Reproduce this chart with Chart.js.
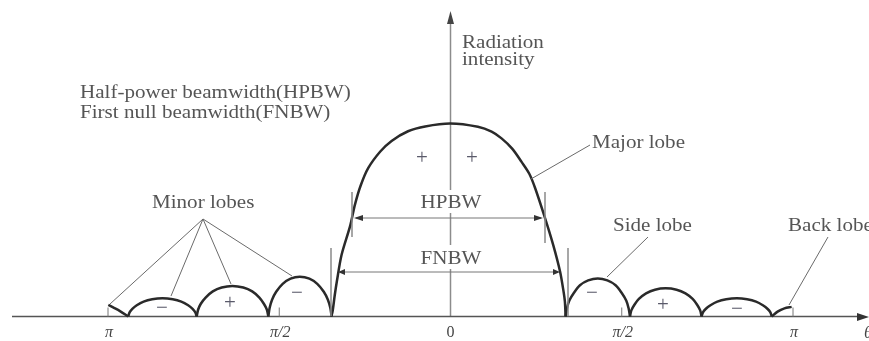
<!DOCTYPE html>
<html>
<head>
<meta charset="utf-8">
<script src="https://cdn.jsdelivr.net/npm/chart.js@4.4.1/dist/chart.umd.min.js"></script>
<style>
  html, body { margin: 0; padding: 0; background: #fff; }
</style>
</head>
<body>
<canvas id="patternChart" width="869" height="341"></canvas>
<script>
// angle in units of pi, radiation intensity relative to the main lobe peak
const mainLobe = [[-0.348, 0], [-0.344, 0.03], [-0.338, 0.11], [-0.332, 0.18], [-0.318, 0.32], [-0.293, 0.47],
    [-0.279, 0.58], [-0.262, 0.68], [-0.240, 0.77], [-0.205, 0.855], [-0.172, 0.91], [-0.124, 0.96],
    [-0.074, 0.985], [0, 1], [0.080, 0.983], [0.120, 0.958], [0.149, 0.923], [0.180, 0.87], [0.208, 0.80],
    [0.230, 0.74], [0.247, 0.666], [0.276, 0.51], [0.300, 0.37], [0.320, 0.232], [0.330, 0.13],
    [0.334, 0.077], [0.336, 0]];

const backLobeLeft = [[-0.999, 0.06], [-0.985, 0.047], [-0.965, 0.028], [-0.941, 0]];
const minorLeft1 = [[-0.941, 0], [-0.937, 0.021], [-0.929, 0.039], [-0.916, 0.058], [-0.896, 0.077], [-0.871, 0.089],
    [-0.841, 0.094], [-0.811, 0.089], [-0.786, 0.077], [-0.766, 0.058], [-0.753, 0.039], [-0.745, 0.021], [-0.741, 0]];
const minorLeft2 = [[-0.741, 0], [-0.737, 0.035], [-0.729, 0.066], [-0.715, 0.098], [-0.694, 0.130], [-0.668, 0.150],
    [-0.637, 0.158], [-0.605, 0.150], [-0.579, 0.130], [-0.558, 0.098], [-0.545, 0.066], [-0.536, 0.035], [-0.532, 0]];
const minorLeft3 = [[-0.532, 0], [-0.528, 0.045], [-0.521, 0.087], [-0.509, 0.128], [-0.490, 0.169], [-0.467, 0.196],
    [-0.440, 0.206], [-0.412, 0.196], [-0.389, 0.169], [-0.370, 0.128], [-0.358, 0.087], [-0.351, 0.045], [-0.347, 0]];

const sideLobe = [[0.336, 0], [0.340, 0.043], [0.347, 0.083], [0.360, 0.122], [0.378, 0.162], [0.402, 0.187],
    [0.430, 0.197], [0.458, 0.187], [0.482, 0.162], [0.500, 0.122], [0.513, 0.083], [0.520, 0.043], [0.524, 0]];
const minorRight2 = [[0.524, 0], [0.528, 0.032], [0.537, 0.061], [0.550, 0.091], [0.571, 0.120], [0.597, 0.139],
    [0.628, 0.146], [0.660, 0.139], [0.686, 0.120], [0.707, 0.091], [0.720, 0.061], [0.729, 0.032], [0.733, 0]];
const minorRight3 = [[0.733, 0], [0.737, 0.021], [0.745, 0.039], [0.759, 0.058], [0.779, 0.077], [0.805, 0.089],
    [0.836, 0.094], [0.866, 0.089], [0.892, 0.077], [0.912, 0.058], [0.926, 0.039], [0.934, 0.021], [0.938, 0]];
const backLobeRight = [[0.938, 0], [0.955, 0.025], [0.975, 0.042], [0.996, 0.05]];

const tickValues = [-1, -0.5, 0, 0.5, 1];
const tickLabels = ['π', 'π/2', '0', 'π/2', 'π'];

const lobes = [backLobeLeft, minorLeft1, minorLeft2, minorLeft3, mainLobe, sideLobe, minorRight2, minorRight3, backLobeRight];

const SERIF = '"Liberation Serif", "DejaVu Serif", serif';
const TEXT = '#555';

function stretchText(ctx, text, x, y, size, align) {
    ctx.save();
    ctx.font = size + 'px ' + SERIF;
    ctx.textAlign = align || 'left';
    ctx.textBaseline = 'alphabetic';
    ctx.translate(x, y);
    ctx.scale(1.17, 1);
    ctx.fillText(text, 0, 0);
    ctx.restore();
}

function line(ctx, x1, y1, x2, y2) {
    ctx.beginPath();
    ctx.moveTo(x1, y1);
    ctx.lineTo(x2, y2);
    ctx.stroke();
}

// filled arrow head, tip at (x, y), dx/dy is the pointing direction
function arrowHead(ctx, x, y, dx, dy, len, half) {
    ctx.beginPath();
    ctx.moveTo(x, y);
    ctx.lineTo(x - dx * len - dy * half, y - dy * len + dx * half);
    ctx.lineTo(x - dx * len + dy * half, y - dy * len - dx * half);
    ctx.closePath();
    ctx.fill();
}

const overlay = {
    id: 'overlay',
    beforeDatasetsDraw(chart) {
        const ctx = chart.ctx;
        const xs = chart.scales.x, ys = chart.scales.y;
        const y0 = ys.getPixelForValue(0);
        const x0 = xs.getPixelForValue(0);
        ctx.save();

        // vertical axis
        ctx.strokeStyle = '#8c8c8c';
        ctx.lineWidth = 1.5;
        line(ctx, x0, y0, x0, ys.top + 8);
        ctx.fillStyle = '#444';
        arrowHead(ctx, x0, ys.top - 1, 0, -1, 13, 3.5);

        // horizontal axis
        ctx.strokeStyle = '#555';
        ctx.lineWidth = 1.5;
        line(ctx, xs.left, y0, xs.right - 4, y0);
        ctx.fillStyle = '#333';
        arrowHead(ctx, xs.right + 4, y0 + 0.5, 1, 0, 12, 4);

        // ticks and labels
        ctx.strokeStyle = '#777';
        ctx.lineWidth = 1;
        ctx.fillStyle = '#444';
        tickValues.forEach((v, i) => {
            const px = xs.getPixelForValue(v);
            if (v !== 0) line(ctx, px, y0, px, y0 - 9);
            ctx.font = (v === 0 ? '' : 'italic ') + '16px ' + SERIF;
            ctx.textAlign = 'center';
            ctx.textBaseline = 'middle';
            ctx.fillText(tickLabels[i], px + (v === 0 ? 0 : 1), y0 + 16);
        });
        ctx.font = 'italic 17px ' + SERIF;
        ctx.textAlign = 'left';
        ctx.fillText('θ', xs.right - 1, y0 + 17);
        ctx.restore();
    },
    afterDatasetsDraw(chart) {
        const ctx = chart.ctx;
        ctx.save();

        // gaps in the vertical axis behind the width labels
        ctx.fillStyle = '#fff';
        ctx.fillRect(420, 190, 62, 23);
        ctx.fillRect(420, 245, 62, 24);

        // HPBW / FNBW markers
        ctx.strokeStyle = '#8a8a8a';
        ctx.lineWidth = 1.5;
        line(ctx, 352, 192, 352, 237);
        line(ctx, 545, 192, 545, 243);
        line(ctx, 331, 248, 331, 316);
        line(ctx, 568, 248, 568, 316);
        ctx.strokeStyle = '#777';
        ctx.lineWidth = 1;
        line(ctx, 356, 218, 541, 218);
        line(ctx, 340, 272, 558, 272);
        ctx.fillStyle = '#333';
        arrowHead(ctx, 354, 218, -1, 0, 9, 3);
        arrowHead(ctx, 543, 218, 1, 0, 9, 3);
        arrowHead(ctx, 338, 272, -1, 0, 7, 3);
        arrowHead(ctx, 560, 272, 1, 0, 7, 3);

        // leader lines
        ctx.strokeStyle = '#6a6a6a';
        ctx.lineWidth = 1;
        line(ctx, 531, 179, 590, 145);
        [[110, 304], [171, 296], [231, 284], [292, 276]].forEach(p => line(ctx, 203, 219, p[0], p[1]));
        line(ctx, 648, 237, 607, 277);
        line(ctx, 828, 237, 789, 305);

        // text
        ctx.fillStyle = TEXT;
        stretchText(ctx, 'Half-power beamwidth(HPBW)', 80, 98, 18);
        stretchText(ctx, 'First null beamwidth(FNBW)', 80, 118, 18);
        stretchText(ctx, 'Radiation', 462, 48, 18);
        stretchText(ctx, 'intensity', 462, 65, 18);
        stretchText(ctx, 'Major lobe', 592, 148, 18);
        stretchText(ctx, 'HPBW', 451, 208, 18, 'center');
        stretchText(ctx, 'FNBW', 451, 264, 18, 'center');
        stretchText(ctx, 'Minor lobes', 152, 208, 18);
        stretchText(ctx, 'Side lobe', 613, 231, 18);
        stretchText(ctx, 'Back lobe', 788, 231, 18);

        // signs of the lobes
        ctx.fillStyle = '#5a5a6a';
        ctx.font = '21px ' + SERIF;
        ctx.textAlign = 'center';
        ctx.textBaseline = 'middle';
        [[422, 158, '+'], [472, 158, '+'], [162, 308, '−'], [230, 303, '+'], [297, 293, '−'],
         [592, 293, '−'], [663, 305, '+'], [737, 309, '−']].forEach(s => ctx.fillText(s[2], s[0], s[1]));
        ctx.restore();
    }
};

new Chart(document.getElementById('patternChart').getContext('2d'), {
    type: 'scatter',
    data: {
        datasets: lobes.map(pts => ({
            data: pts.map(p => ({ x: p[0], y: p[1] })),
            showLine: true,
            borderColor: '#2a2a2a',
            borderWidth: 2.5,
            pointRadius: 0,
            tension: 0.3,
            clip: false
        }))
    },
    options: {
        responsive: false,
        animation: false,
        devicePixelRatio: 1,
        layout: { padding: { left: 12, right: 4, top: 12, bottom: 24.5 } },
        plugins: {
            legend: { display: false },
            tooltip: { enabled: false }
        },
        scales: {
            x: { type: 'linear', display: false, min: -1.2803, max: 1.2102 },
            y: { type: 'linear', display: false, min: 0, max: 1.578 }
        }
    },
    plugins: [overlay]
});
</script>
</body>
</html>
